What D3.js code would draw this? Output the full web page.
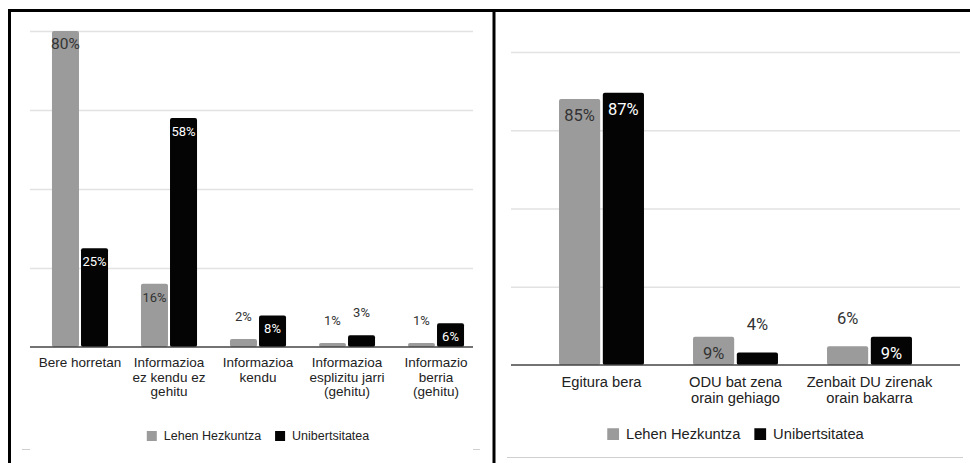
<!DOCTYPE html>
<html>
<head>
<meta charset="utf-8">
<script src="https://cdn.jsdelivr.net/npm/d3@7"></script>
<style>
    html, body { margin: 0; padding: 0; background: #fff; }
    svg { display: block; }
</style>
</head>
<body>
<div id="chart"></div>
<script>
    'use strict';

    var seriesNames = ['Lehen Hezkuntza', 'Unibertsitatea'];
    var seriesColors = ['#9b9b9b', '#040404'];

    // left chart
    var leftCategories = ['Bere horretan', 'Informazioa\nez kendu ez\ngehitu', 'Informazioa\nkendu',
        'Informazioa\nesplizitu jarri\n(gehitu)', 'Informazio\nberria\n(gehitu)'];
    var leftLehen = [80, 16, 2, 1, 1];
    var leftUnib = [25, 58, 8, 3, 6];
    var leftTicks = [0, 20, 40, 60, 80];

    // right chart
    var rightCategories = ['Egitura bera', 'ODU bat zena\norain gehiago', 'Zenbait DU zirenak\norain bakarra'];
    var rightLehen = [85, 9, 6];
    var rightUnib = [87, 4, 9];
    var rightTicks = [0, 25, 50, 75, 100];

    var svg = d3.select('#chart')
        .append('svg')
        .attr('width', 970)
        .attr('height', 463);

    var drawBarChart = function (opts) {
        var g = svg.append('g');

        var yScale = d3.scaleLinear()
            .domain([0, d3.max(opts.ticks)])
            .range([opts.bottom, opts.top]);

        var x0 = d3.scaleBand()
            .domain(opts.categories)
            .range([opts.left, opts.right])
            .paddingInner(opts.groupPad)
            .paddingOuter(opts.groupPad / 2);

        var x1 = d3.scaleBand()
            .domain(seriesNames)
            .range([0, x0.bandwidth()])
            .paddingInner(opts.barPad);

        // gridlines
        var grid = g.append('g')
            .attr('transform', 'translate(' + opts.gridRight + ',0)')
            .call(d3.axisLeft(yScale).tickValues(opts.ticks.slice(1))
                .tickSize(opts.gridRight - opts.gridLeft).tickFormat(''));
        grid.select('.domain').remove();
        grid.selectAll('.tick line').attr('stroke', '#e2e2e2').attr('stroke-width', 1.3);

        var rows = opts.categories.map(function (c, i) {
            return { cat: c, values: [opts.lehen[i], opts.unib[i]] };
        });

        var groups = g.selectAll('.group')
            .data(rows)
            .enter()
            .append('g')
            .attr('transform', function (d) { return 'translate(' + x0(d.cat) + ',0)'; });

        var items = groups.selectAll('.item')
            .data(function (d) {
                return d.values.map(function (v, i) { return { series: seriesNames[i], idx: i, value: v }; });
            })
            .enter()
            .append('g');

        items.append('rect')
            .attr('x', function (d) { return x1(d.series); })
            .attr('width', x1.bandwidth())
            .attr('y', function (d) { return yScale(d.value); })
            .attr('height', function (d) { return opts.bottom - yScale(d.value); })
            .attr('rx', 2)
            .attr('fill', function (d) { return seriesColors[d.idx]; });

        var maxVal = d3.max(opts.lehen.concat(opts.unib));

        //  small bars get their label above, the rest inside near the top
        items.append('text')
            .attr('x', function (d) { return x1(d.series) + x1.bandwidth() / 2; })
            .attr('y', function (d) {
                var h = opts.bottom - yScale(d.value);
                return h > 20 ? yScale(d.value) + opts.inside : yScale(d.value) - opts.above;
            })
            .attr('text-anchor', 'middle')
            .style('font-family', 'Roboto, sans-serif')
            .style('font-size', function (d) {
                return (opts.bigMax && d.value === maxVal ? opts.labelSize + 2.5 : opts.labelSize) + 'px';
            })
            .attr('fill', function (d) {
                var h = opts.bottom - yScale(d.value);
                return (d.idx === 1 && h > 20) ? '#ffffff' : '#333333';
            })
            .text(function (d) { return d.value + '%'; });

        // baseline
        g.append('line')
            .attr('x1', opts.gridLeft).attr('x2', opts.gridRight)
            .attr('y1', opts.bottom).attr('y2', opts.bottom)
            .attr('stroke', '#444').attr('stroke-width', 1.3);

        // category labels
        var xAxis = g.append('g')
            .attr('transform', 'translate(0,' + opts.bottom + ')')
            .call(d3.axisBottom(x0).tickSize(0).tickFormat(''));
        xAxis.select('.domain').remove();

        xAxis.selectAll('.tick')
            .append('text')
            .attr('text-anchor', 'middle')
            .attr('fill', '#222')
            .style('font-family', '"Liberation Sans", Arial, sans-serif')
            .style('font-size', opts.axisSize + 'px')
            .each(function (d) {
                var t = d3.select(this);
                d.split('\n').forEach(function (line, i) {
                    t.append('tspan')
                        .attr('x', 0)
                        .attr('y', opts.axisFirst + i * opts.axisLine)
                        .text(line);
                });
            });

        // legend, centred under the plot
        var legend = g.append('g');
        var sq = opts.legendSize * 0.8;
        var cursor = 0;
        seriesNames.forEach(function (name, i) {
            legend.append('rect')
                .attr('x', cursor)
                .attr('y', -sq + 1)
                .attr('width', sq)
                .attr('height', sq)
                .attr('fill', seriesColors[i]);
            var txt = legend.append('text')
                .attr('x', cursor + sq + 7)
                .attr('y', 0)
                .attr('fill', '#222')
                .style('font-family', '"Liberation Sans", Arial, sans-serif')
                .style('font-size', opts.legendSize + 'px')
                .text(name);
            cursor += sq + 7 + txt.node().getComputedTextLength() + 14;
        });
        cursor -= 14;
        var mid = (opts.left + opts.right) / 2;
        legend.attr('transform', 'translate(' + (mid - cursor / 2) + ',' + opts.legendY + ')');
    };

    drawBarChart({
        categories: leftCategories, lehen: leftLehen, unib: leftUnib, ticks: leftTicks,
        top: 31, bottom: 347, left: 35.5, right: 480.5, gridLeft: 30, gridRight: 473,
        groupPad: 0.37, barPad: 0.07,
        labelSize: 13, bigMax: true, inside: 18, above: 18,
        axisSize: 13.5, axisFirst: 20, axisLine: 14.5,
        legendSize: 12.5, legendY: 440
    });

    drawBarChart({
        categories: rightCategories, lehen: rightLehen, unib: rightUnib, ticks: rightTicks,
        top: 52, bottom: 365, left: 534.5, right: 936.5, gridLeft: 511, gridRight: 960,
        groupPad: 0.366, barPad: 0.06,
        labelSize: 16.5, bigMax: false, inside: 22, above: 22,
        axisSize: 14.7, axisFirst: 22, axisLine: 15.7,
        legendSize: 14.7, legendY: 439
    });

    // panel frames and leftover rules from the screenshot
    var frame = svg.append('g').attr('stroke', '#000').attr('stroke-width', 3);
    frame.append('line').attr('x1', 8).attr('x2', 970).attr('y1', 10.5).attr('y2', 10.5);
    frame.append('line').attr('x1', 9.5).attr('x2', 9.5).attr('y1', 9).attr('y2', 463);
    frame.append('line').attr('x1', 494).attr('x2', 494).attr('y1', 9).attr('y2', 463);

    var rules = svg.append('g').attr('stroke', '#cfcfcf').attr('stroke-width', 1);
    rules.append('line').attr('x1', 22).attr('x2', 30).attr('y1', 449.5).attr('y2', 449.5);
    rules.append('line').attr('x1', 473).attr('x2', 480).attr('y1', 449.5).attr('y2', 449.5);
    rules.append('line').attr('x1', 507).attr('x2', 963).attr('y1', 457.5).attr('y2', 457.5);
</script>
</body>
</html>
